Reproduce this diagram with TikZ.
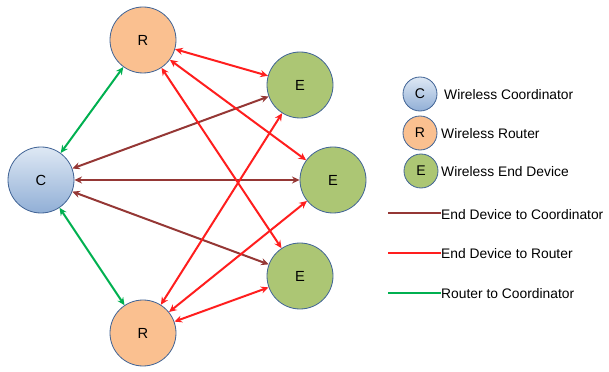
\documentclass[tikz,border=0pt]{standalone}
\usepackage{fontspec}
\setmainfont{Liberation Sans}
\usetikzlibrary{arrows.meta,positioning}
\definecolor{edgeblue}{RGB}{65,100,150}
\definecolor{rfill}{RGB}{250,192,144}
\definecolor{efill}{RGB}{172,198,116}
\definecolor{ctop}{RGB}{222,232,244}
\definecolor{cbot}{RGB}{145,175,214}
\definecolor{ecbrown}{RGB}{149,55,53}
\definecolor{erred}{RGB}{255,30,30}
\definecolor{rcgreen}{RGB}{0,176,80}
\tikzset{
	dev/.style={circle, draw=edgeblue, line width=0.7pt, minimum size=1.98cm, inner sep=0pt, font=\fontsize{12.5}{14}\selectfont},
	legdev/.style={circle, draw=edgeblue, line width=0.7pt, minimum size=1.02cm, inner sep=0pt, font=\fontsize{12}{14}\selectfont},
	coord/.style={top color=ctop, bottom color=cbot},
	router/.style={fill=rfill},
	enddev/.style={fill=efill},
	link/.style={line width=1.7pt, {Stealth[length=6.5pt,width=6pt]}-{Stealth[length=6.5pt,width=6pt]}},
	leglabel/.style={anchor=west, inner sep=0pt, font=\fontsize{11.8}{13}\selectfont}
}
\begin{document}
\begin{tikzpicture}[x=0.03cm,y=-0.03cm]
	\useasboundingbox (0,0) rectangle (609,372);

	\node[dev,coord] (C) at (41,180) {C};
	\node[dev,router] (R1) at (143,40) {R};
	\node[dev,router] (R2) at (143,333) {R};
	\node[dev,enddev] (E1) at (300,85) {E};
	\node[dev,enddev] (E2) at (333,180) {E};
	\node[dev,enddev] (E3) at (300,276) {E};

	\draw [link,rcgreen] (C)--(R1);
	\draw [link,rcgreen] (C)--(R2);
	\draw [link,ecbrown] (C)--(E1);
	\draw [link,ecbrown] (C)--(E2);
	\draw [link,ecbrown] (C)--(E3);
	\draw [link,erred] (R1)--(E1);
	\draw [link,erred] (R1)--(E2);
	\draw [link,erred] (R1)--(E3);
	\draw [link,erred] (R2)--(E1);
	\draw [link,erred] (R2)--(E2);
	\draw [link,erred] (R2)--(E3);

	\node[legdev,coord] (legC) at (420,94) {C};
	\node[legdev,router] (legR) at (420,133) {R};
	\node[legdev,enddev] (legE) at (421,171) {E};
	\node[leglabel] (legCtext) at (444,95) {Wireless Coordinator};
	\node[leglabel] (legRtext) at (441,134) {Wireless Router};
	\node[leglabel] (legEtext) at (441,172) {Wireless End Device};

	\coordinate (lb) at (388,213);
	\coordinate (lr) at (388,253);
	\coordinate (lg) at (388,293);
	\node[leglabel] (ecText) at (441,215) {End Device to Coordinator};
	\node[leglabel] (erText) at (441,254) {End Device to Router};
	\node[leglabel] (rcText) at (441,294) {Router to Coordinator};
	\draw [ecbrown,line width=2.4pt] (lb)--(ecText.west |- lb);
	\draw [erred,line width=2.4pt] (lr)--(erText.west |- lr);
	\draw [rcgreen,line width=2.4pt] (lg)--(rcText.west |- lg);

\end{tikzpicture}
\end{document}
